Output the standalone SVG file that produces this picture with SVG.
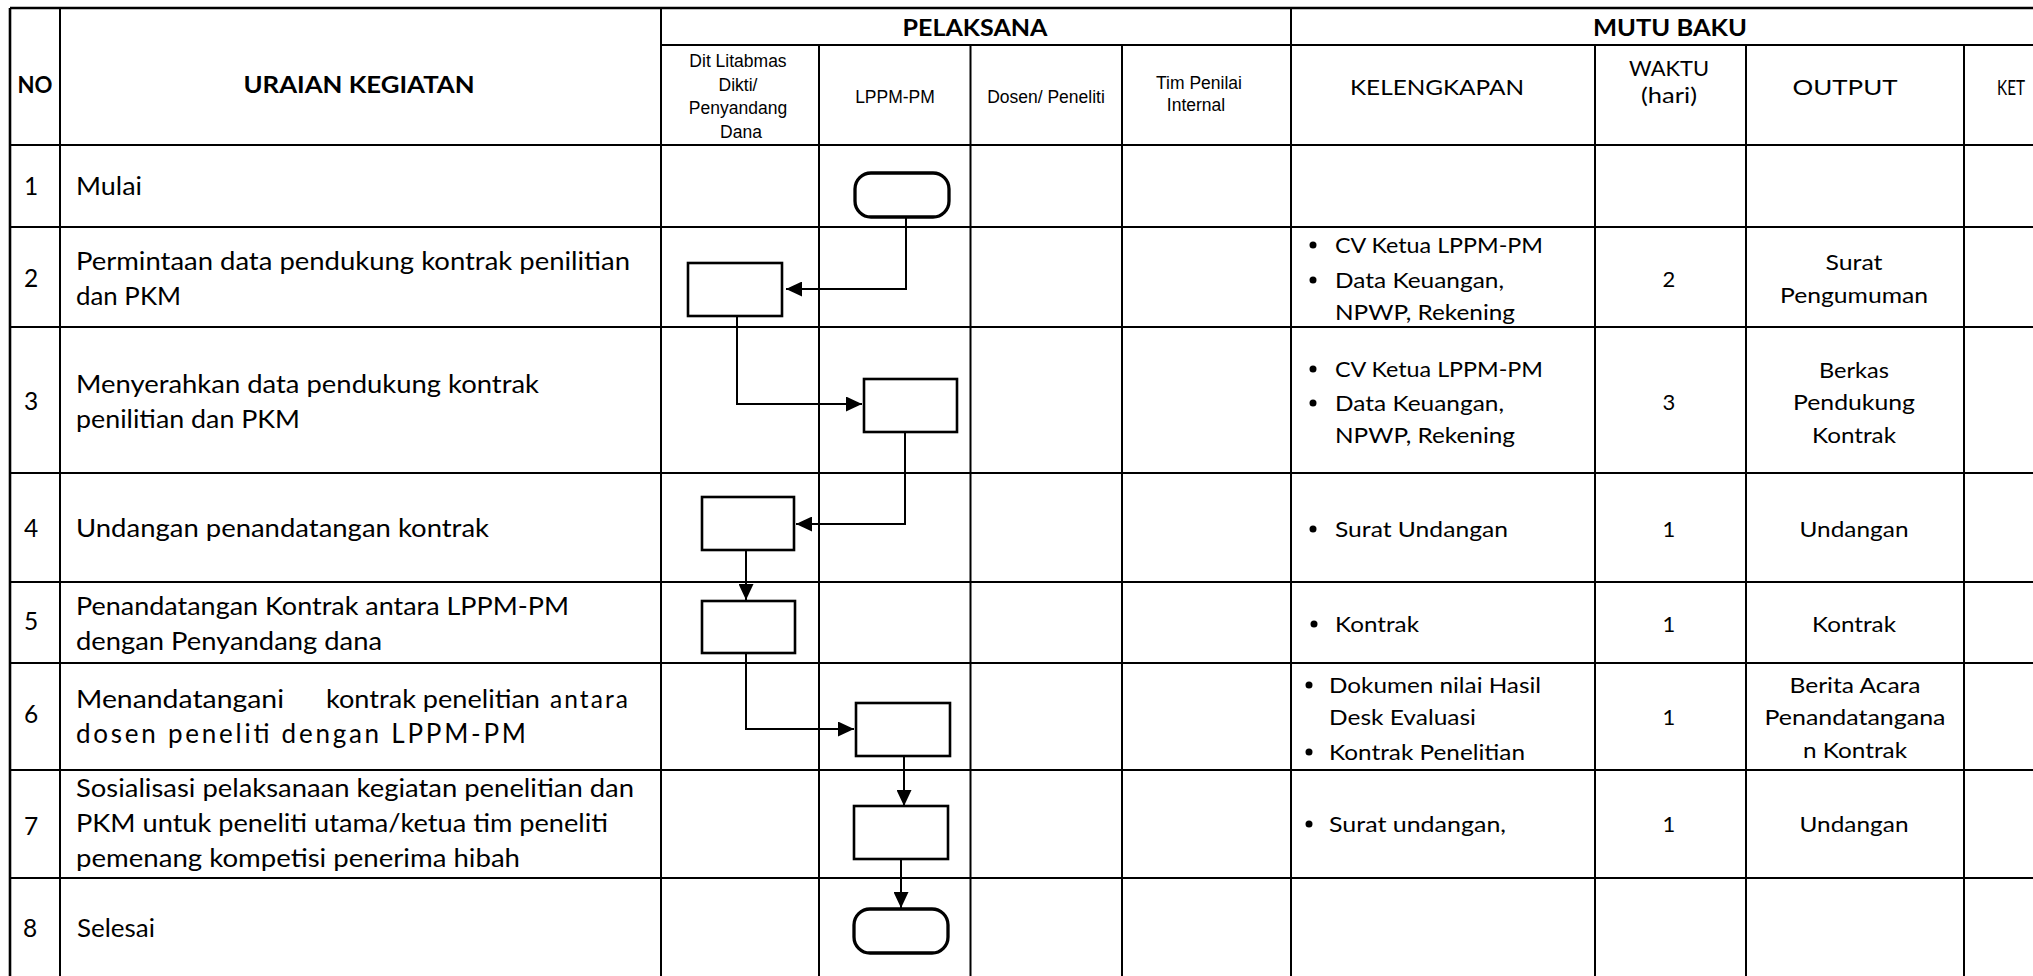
<svg xmlns="http://www.w3.org/2000/svg" width="2033" height="976" viewBox="0 0 2033 976">
<style>
.bg{fill:#fff}
.g{stroke:#000;stroke-width:2;fill:none}
.go{stroke:#000;stroke-width:2.6;fill:none}
.box{fill:#fff;stroke:#000;stroke-width:2.6}
.term{fill:#fff;stroke:#000;stroke-width:3.3}
.c{stroke:#000;stroke-width:2;fill:none}
.hb{font-family:Lato,"Open Sans",sans-serif;font-weight:bold;font-size:22px;fill:#000;text-anchor:middle}
.h{font-family:"Liberation Sans",Arial,sans-serif;font-size:17.5px;fill:#000;text-anchor:middle}
.hm{font-family:Lato,"Open Sans",sans-serif;font-size:22px;fill:#000;text-anchor:middle}
.t{font-family:Lato,"Open Sans",sans-serif;font-size:24.5px;fill:#000}
.n{font-family:Lato,"Open Sans",sans-serif;font-size:24.5px;fill:#000;text-anchor:middle}
.m{font-family:Lato,"Open Sans",sans-serif;font-size:22px;fill:#000}
.mc{font-family:Lato,"Open Sans",sans-serif;font-size:22px;fill:#000;text-anchor:middle}
.dot{fill:#000}
</style>
<defs>
<marker id="arr" markerUnits="userSpaceOnUse" markerWidth="17" markerHeight="15" refX="16" refY="7.5" orient="auto">
<path d="M0,0 L16,7.5 L0,15 z" fill="#000"/>
</marker>
</defs>
<rect class="bg" x="0" y="0" width="2033" height="976"/>

<g id="grid">
<path class="go" d="M10,8 H2047 M10,8 V980 M2047,8 V980"/>
<path class="g" d="M60,8 V980 M661,8 V980 M1291,8 V980 M819,45 V980 M970.5,45 V980 M1122,45 V980 M1595,45 V980 M1746,45 V980 M1964,45 V980"/>
<path class="g" d="M661,45 H2047 M10,145 H2047 M10,227 H2047 M10,327 H2047 M10,473 H2047 M10,582 H2047 M10,663 H2047 M10,770 H2047 M10,878 H2047"/>
</g>

<g id="header">
<text class="hb" x="35" y="93" textLength="35" lengthAdjust="spacingAndGlyphs">NO</text>
<text class="hb" x="359" y="93" textLength="231" lengthAdjust="spacingAndGlyphs">URAIAN KEGIATAN</text>
<text class="hb" x="975" y="36" textLength="145" lengthAdjust="spacingAndGlyphs">PELAKSANA</text>
<text class="hb" x="1670" y="36" textLength="154" lengthAdjust="spacingAndGlyphs">MUTU BAKU</text>
<text class="h" x="738" y="67">Dit Litabmas</text>
<text class="h" x="738" y="91">Dikti/</text>
<text class="h" x="738" y="114">Penyandang</text>
<text class="h" x="741" y="138">Dana</text>
<text class="h" x="895" y="103">LPPM-PM</text>
<text class="h" x="1046" y="103">Dosen/ Peneliti</text>
<text class="h" x="1199" y="89">Tim Penilai</text>
<text class="h" x="1196" y="111">Internal</text>
<text class="hm" x="1437" y="95" textLength="174" lengthAdjust="spacingAndGlyphs">KELENGKAPAN</text>
<text class="hm" x="1669" y="76" textLength="80" lengthAdjust="spacingAndGlyphs">WAKTU</text>
<text class="hm" x="1669" y="103" textLength="56" lengthAdjust="spacingAndGlyphs">(hari)</text>
<text class="hm" x="1845" y="95" textLength="105" lengthAdjust="spacingAndGlyphs">OUTPUT</text>
<text class="hm" x="2011" y="95" textLength="28" lengthAdjust="spacingAndGlyphs">KET</text>
</g>

<g id="row1">
<text class="n" x="31" y="195">1</text>
<text class="t" x="76" y="195" textLength="66" lengthAdjust="spacingAndGlyphs">Mulai</text>
</g>
<g id="row2">
<text class="n" x="31" y="287">2</text>
<text class="t" x="76" y="270" textLength="554" lengthAdjust="spacingAndGlyphs">Permintaan data pendukung kontrak penilitian</text>
<text class="t" x="76" y="305" textLength="105" lengthAdjust="spacingAndGlyphs">dan PKM</text>
<circle class="dot" cx="1313" cy="245" r="3.5"/>
<text class="m" x="1335" y="253" textLength="208" lengthAdjust="spacingAndGlyphs">CV Ketua LPPM-PM</text>
<circle class="dot" cx="1313" cy="280" r="3.5"/>
<text class="m" x="1335" y="288" textLength="169" lengthAdjust="spacingAndGlyphs">Data Keuangan,</text>
<text class="m" x="1335" y="320" textLength="180" lengthAdjust="spacingAndGlyphs">NPWP, Rekening</text>
<text class="mc" x="1669" y="287">2</text>
<text class="mc" x="1854" y="270" textLength="57" lengthAdjust="spacingAndGlyphs">Surat</text>
<text class="mc" x="1854" y="303" textLength="148" lengthAdjust="spacingAndGlyphs">Pengumuman</text>
</g>
<g id="row3">
<text class="n" x="31" y="410">3</text>
<text class="t" x="76" y="393" textLength="463" lengthAdjust="spacingAndGlyphs">Menyerahkan data pendukung kontrak</text>
<text class="t" x="76" y="428" textLength="224" lengthAdjust="spacingAndGlyphs">penilitian dan PKM</text>
<circle class="dot" cx="1313" cy="369" r="3.5"/>
<text class="m" x="1335" y="377" textLength="208" lengthAdjust="spacingAndGlyphs">CV Ketua LPPM-PM</text>
<circle class="dot" cx="1313" cy="403" r="3.5"/>
<text class="m" x="1335" y="411" textLength="169" lengthAdjust="spacingAndGlyphs">Data Keuangan,</text>
<text class="m" x="1335" y="443" textLength="180" lengthAdjust="spacingAndGlyphs">NPWP, Rekening</text>
<text class="mc" x="1669" y="410">3</text>
<text class="mc" x="1854" y="378" textLength="70" lengthAdjust="spacingAndGlyphs">Berkas</text>
<text class="mc" x="1854" y="410" textLength="122" lengthAdjust="spacingAndGlyphs">Pendukung</text>
<text class="mc" x="1854" y="443" textLength="84" lengthAdjust="spacingAndGlyphs">Kontrak</text>
</g>
<g id="row4">
<text class="n" x="31" y="537">4</text>
<text class="t" x="76" y="537" textLength="413" lengthAdjust="spacingAndGlyphs">Undangan penandatangan kontrak</text>
<circle class="dot" cx="1313" cy="529" r="3.5"/>
<text class="m" x="1335" y="537" textLength="173" lengthAdjust="spacingAndGlyphs">Surat Undangan</text>
<text class="mc" x="1669" y="537">1</text>
<text class="mc" x="1854" y="537" textLength="109" lengthAdjust="spacingAndGlyphs">Undangan</text>
</g>
<g id="row5">
<text class="n" x="31" y="630">5</text>
<text class="t" x="76" y="615" textLength="493" lengthAdjust="spacingAndGlyphs">Penandatangan Kontrak antara LPPM-PM</text>
<text class="t" x="76" y="650" textLength="306" lengthAdjust="spacingAndGlyphs">dengan Penyandang dana</text>
<circle class="dot" cx="1314" cy="624" r="3.5"/>
<text class="m" x="1335" y="632" textLength="84" lengthAdjust="spacingAndGlyphs">Kontrak</text>
<text class="mc" x="1669" y="632">1</text>
<text class="mc" x="1854" y="632" textLength="84" lengthAdjust="spacingAndGlyphs">Kontrak</text>
</g>
<g id="row6">
<text class="n" x="31" y="723">6</text>
<text class="t" x="76" y="708" textLength="208" lengthAdjust="spacingAndGlyphs">Menandatangani</text>
<text class="t" x="326" y="708" textLength="214" lengthAdjust="spacingAndGlyphs">kontrak penelitian</text>
<text class="t" x="550" y="708" textLength="78" lengthAdjust="spacing">antara</text>
<text class="t" x="76" y="743" style="font-size:26px" textLength="450" lengthAdjust="spacing">dosen peneliti dengan LPPM-PM</text>
<circle class="dot" cx="1309" cy="685" r="3.5"/>
<text class="m" x="1329" y="693" textLength="212" lengthAdjust="spacingAndGlyphs">Dokumen nilai Hasil</text>
<text class="m" x="1329" y="725" textLength="147" lengthAdjust="spacingAndGlyphs">Desk Evaluasi</text>
<circle class="dot" cx="1309" cy="752" r="3.5"/>
<text class="m" x="1329" y="760" textLength="196" lengthAdjust="spacingAndGlyphs">Kontrak Penelitian</text>
<text class="mc" x="1669" y="725">1</text>
<text class="mc" x="1855" y="693" textLength="131" lengthAdjust="spacingAndGlyphs">Berita Acara</text>
<text class="mc" x="1855" y="725" textLength="181" lengthAdjust="spacingAndGlyphs">Penandatangana</text>
<text class="mc" x="1855" y="758" textLength="104" lengthAdjust="spacingAndGlyphs">n Kontrak</text>
</g>
<g id="row7">
<text class="n" x="31" y="835">7</text>
<text class="t" x="76" y="797" textLength="558" lengthAdjust="spacingAndGlyphs">Sosialisasi pelaksanaan kegiatan penelitian dan</text>
<text class="t" x="76" y="832" textLength="532" lengthAdjust="spacingAndGlyphs">PKM untuk peneliti utama/ketua tim peneliti</text>
<text class="t" x="76" y="867" textLength="444" lengthAdjust="spacingAndGlyphs">pemenang kompetisi penerima hibah</text>
<circle class="dot" cx="1309" cy="824" r="3.5"/>
<text class="m" x="1329" y="832" textLength="177" lengthAdjust="spacingAndGlyphs">Surat undangan,</text>
<text class="mc" x="1669" y="832">1</text>
<text class="mc" x="1854" y="832" textLength="109" lengthAdjust="spacingAndGlyphs">Undangan</text>
</g>
<g id="row8">
<text class="n" x="30" y="937">8</text>
<text class="t" x="77" y="937" textLength="78" lengthAdjust="spacingAndGlyphs">Selesai</text>
</g>

<g id="connectors">
<path class="c" d="M906,217 V289 H786" marker-end="url(#arr)"/>
<path class="c" d="M737,316 V404 H862" marker-end="url(#arr)"/>
<path class="c" d="M905,432 V524 H796" marker-end="url(#arr)"/>
<path class="c" d="M746,550 V600" marker-end="url(#arr)"/>
<path class="c" d="M746,653 V729 H854" marker-end="url(#arr)"/>
<path class="c" d="M904,756 V806" marker-end="url(#arr)"/>
<path class="c" d="M901,859 V908" marker-end="url(#arr)"/>
</g>

<g id="start"><rect class="term" x="855" y="173" width="94" height="44" rx="16" ry="16"/></g>
<g id="box2"><rect class="box" x="688" y="263" width="94" height="53"/></g>
<g id="box3"><rect class="box" x="864" y="379" width="93" height="53"/></g>
<g id="box4"><rect class="box" x="702" y="497" width="92" height="53"/></g>
<g id="box5"><rect class="box" x="702" y="601" width="93" height="52"/></g>
<g id="box6"><rect class="box" x="856" y="703" width="94" height="53"/></g>
<g id="box7"><rect class="box" x="854" y="806" width="94" height="53"/></g>
<g id="end"><rect class="term" x="854" y="909" width="94" height="44" rx="16" ry="16"/></g>
</svg>
